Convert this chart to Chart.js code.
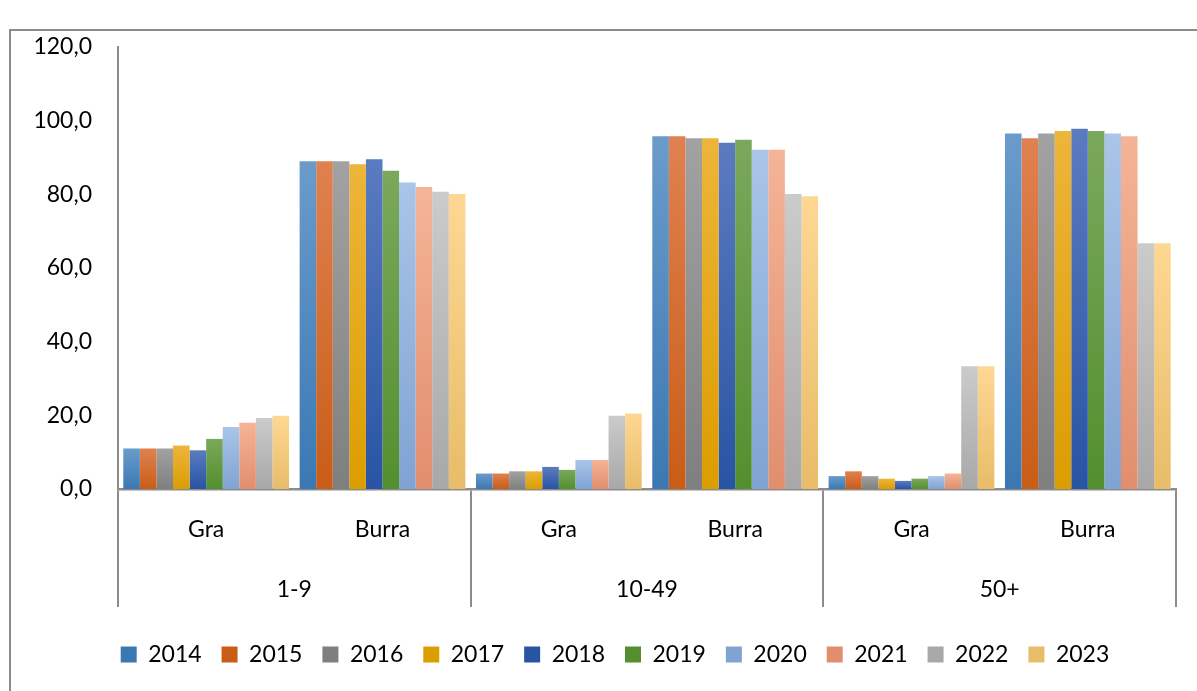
<!DOCTYPE html>
<html lang="sq">
<head>
    <meta charset="UTF-8">
    <title>Gra dhe burra sipas madhësisë së ndërmarrjes</title>
    <script src="https://cdn.jsdelivr.net/npm/chart.js"></script>
    <style>
        html, body { margin: 0; padding: 0; background: #fff; overflow: hidden; }
        #frame {
            position: absolute;
            left: 9px;
            top: 29px;
            width: 1230px;
            height: 704px;
            border: 2px solid #8c8c8c;
            box-sizing: border-box;
        }
        #frame canvas { display: block; }
    </style>
</head>
<body>
    <div id="frame">
        <canvas id="shareChart"></canvas>
    </div>

    <script>
        // categories
        const sizeGroups = ['1-9', '10-49', '50+'];
        const sexes = ['Gra', 'Burra'];
        const years = ['2014', '2015', '2016', '2017', '2018', '2019', '2020', '2021', '2022', '2023'];
        const yTicks = [0, 20, 40, 60, 80, 100, 120];

        // shares (%) by year, 2014..2023
        const gra_1_9     = [11.0, 11.0, 11.0, 11.8, 10.5, 13.6, 16.8, 18.0, 19.3, 19.9];
        const burra_1_9   = [89.0, 89.0, 89.0, 88.2, 89.5, 86.4, 83.2, 82.0, 80.7, 80.1];
        const gra_10_49   = [4.2, 4.2, 4.8, 4.8, 6.0, 5.2, 7.9, 7.9, 19.9, 20.5];
        const burra_10_49 = [95.8, 95.8, 95.2, 95.2, 94.0, 94.8, 92.1, 92.1, 80.1, 79.5];
        const gra_50      = [3.5, 4.8, 3.5, 2.8, 2.2, 2.8, 3.5, 4.2, 33.3, 33.3];
        const burra_50    = [96.5, 95.2, 96.5, 97.2, 97.8, 97.2, 96.5, 95.8, 66.7, 66.7];

        // top / bottom colour of each year's gradient
        const yearColors = [
            ['#6a9bcb', '#3b78b3'],
            ['#df8150', '#c95d17'],
            ['#a2a2a2', '#7f7f7f'],
            ['#edb53a', '#dc9d00'],
            ['#5b7bc0', '#2854a4'],
            ['#7aa85c', '#538f2e'],
            ['#a9c5e8', '#80a3d2'],
            ['#f5b497', '#e18e6e'],
            ['#cbcbcb', '#a8a8a8'],
            ['#fed793', '#e8bc68']
        ];

        const axisGray = '#8c8c8c';

        function mix(a, b) {
            const p = (h, i) => parseInt(h.substr(1 + i * 2, 2), 16);
            let out = '#';
            for (let i = 0; i < 3; i++) {
                out += Math.round((p(a, i) + p(b, i)) / 2).toString(16).padStart(2, '0');
            }
            return out;
        }

        // vertical gradient per bar, from its top down to the baseline
        function barFill(top, bottom) {
            const flat = mix(top, bottom);
            return (ctx) => {
                const chart = ctx.chart;
                if (ctx.type !== 'data' || !chart.chartArea) return flat;
                const y = chart.scales.y;
                const yTop = y.getPixelForValue(ctx.raw);
                const yBase = y.getPixelForValue(0);
                if (!isFinite(yTop) || yBase - yTop < 1) return flat;
                const g = chart.ctx.createLinearGradient(0, yTop, 0, yBase);
                g.addColorStop(0, top);
                g.addColorStop(1, bottom);
                return g;
            };
        }

        const labels = sizeGroups.flatMap(() => sexes);

        const datasets = years.map((year, i) => ({
            label: year,
            data: [gra_1_9[i], burra_1_9[i], gra_10_49[i], burra_10_49[i], gra_50[i], burra_50[i]],
            backgroundColor: barFill(yearColors[i][0], yearColors[i][1]),
            borderWidth: 0,
            categoryPercentage: 0.94,
            barPercentage: 1.0
        }));

        Chart.defaults.font.family = 'Lato, "Liberation Sans", sans-serif';
        Chart.defaults.font.size = 23;
        Chart.defaults.color = '#000';

        const ctx = document.getElementById('shareChart').getContext('2d');
        new Chart(ctx, {
            type: 'bar',
            data: { labels: labels, datasets: datasets },
            options: {
                responsive: true,
                maintainAspectRatio: false,
                animation: false,
                layout: { padding: { left: 13, right: 31, top: 16, bottom: 55 } },
                plugins: {
                    tooltip: { enabled: false },
                    legend: {
                        position: 'bottom',
                        labels: { boxWidth: 16, boxHeight: 16, padding: 20 }
                    }
                },
                scales: {
                    y: {
                        min: 0,
                        max: 120,
                        afterBuildTicks: (scale) => { scale.ticks = yTicks.map(v => ({ value: v })); },
                        afterFit: (scale) => {
                            scale.width = 94;
                            // top label may overhang; keep the plot top where it is
                            scale.paddingTop = 0;
                            scale.paddingBottom = 0;
                        },
                        grid: { display: false, drawTicks: false },
                        border: { display: true, color: axisGray, width: 2 },
                        ticks: {
                            padding: 26,
                            callback: (v) => v.toFixed(1).replace('.', ',')
                        }
                    },
                    // empty strip on the right so the legend sits centred in the frame
                    yRight: {
                        position: 'right',
                        afterFit: (scale) => { scale.width = 30; },
                        grid: { display: false, drawTicks: false },
                        border: { display: false },
                        ticks: { display: false }
                    },
                    x: {
                        weight: 0,
                        offset: true,
                        afterFit: (scale) => { scale.height = 55; },
                        grid: {
                            offset: true,
                            drawOnChartArea: false,
                            tickLength: 118,
                            lineWidth: 2,
                            // separators only between the size groups
                            color: (c) => (c.index === undefined || c.index % 2 === 0) ? axisGray : 'rgba(0,0,0,0)'
                        },
                        border: { display: true, color: axisGray, width: 2.5 },
                        ticks: { padding: -91, autoSkip: false, maxRotation: 0 }
                    },
                    x2: {
                        type: 'category',
                        position: 'bottom',
                        weight: 1,
                        labels: sizeGroups,
                        offset: true,
                        afterFit: (scale) => { scale.height = 79; },
                        grid: { display: false },
                        border: { display: false },
                        ticks: { padding: 24, autoSkip: false, maxRotation: 0 }
                    }
                }
            }
        });
    </script>
</body>
</html>
